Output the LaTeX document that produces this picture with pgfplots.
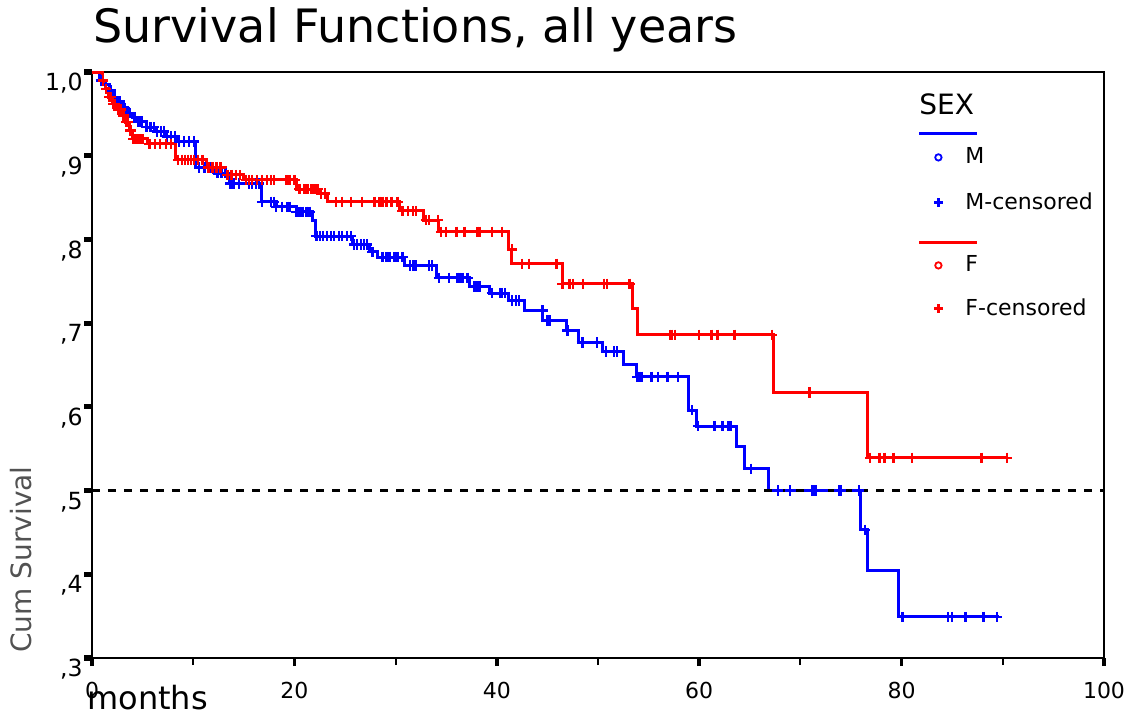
\documentclass[border=0pt]{standalone}
\usepackage{fontspec}
\setmainfont{DejaVu Sans}
\usepackage{pgfplots}
\pgfplotsset{compat=1.18}
\usetikzlibrary{calc}
\definecolor{kmblue}{RGB}{0,0,255}
\definecolor{kmred}{RGB}{255,0,0}
\pgfplotsset{
  kmline/.style={legend image code/.code={\draw[##1,overlay] (-1bp,0bp) -- (28bp,0bp); \path[draw=none,fill=none] (0bp,-#1) rectangle (22bp,#1);}},
  kmmark/.style={legend image code/.code={\draw[##1] plot coordinates {(8.5bp,0bp)}; \path[draw=none,fill=none] (0bp,-#1) rectangle (22bp,#1);}},
  kmtext/.style={legend image code/.code={\path[draw=none,fill=none] (0bp,-#1) rectangle (22bp,#1);}},
}
\begin{document}
\begin{tikzpicture}
\begin{axis}[
  name=main,
  scale only axis, width=506bp, height=293bp,
  xmin=0, xmax=100, ymin=0.3, ymax=1.0,
  xtick={0,20,40,60,80,100}, xticklabels={0,20,40,60,80,100},
  minor xtick={10,30,50,70,90},
  ytick={0.3,0.4,0.5,0.6,0.7,0.8,0.9,1.0},
  yticklabels={{,3},{,4},{,5},{,6},{,7},{,8},{,9},{1,0}},
  xtick pos=left, ytick pos=left,
  tick align=outside,
  major tick length=4bp, minor tick length=3.5bp,
  major x tick style={line width=1.8bp, black},
  minor x tick style={line width=1bp, black},
  y tick style={line width=2.6bp, black},
  axis line style={line width=1.2bp},
  tick label style={font=\fontsize{11bp}{13bp}\selectfont, inner sep=0pt},
  xticklabel style={yshift=-8bp},
  yticklabel style={font=\fontsize{11.8bp}{14bp}\selectfont, anchor=north east, yshift=-0.5bp, xshift=-0.5bp},
  clip=false,
  title={Survival Functions, all years},
  title style={at={(axis description cs:0.001,1.0495)}, anchor=base west, yshift=-6pt, inner sep=0pt, font=\fontsize{23bp}{26bp}\selectfont},
  xlabel={months},
  xlabel style={at={(axis description cs:-0.005,0)}, anchor=base west, yshift=-25.5bp, inner sep=0pt, font=\fontsize{16bp}{19bp}\selectfont},
  ylabel={Cum Survival},
  ylabel style={at={(axis description cs:-0.0593,0.0085)}, anchor=base west, inner sep=0pt, font=\fontsize{14bp}{16bp}\selectfont, text=black!68},
  legend cell align=left,
  legend style={draw=none, fill=none, inner sep=0pt, row sep=0pt, column sep=0pt,
    at={(axis description cs:0,1)}, anchor=north west, xshift=414.5bp, yshift=-8.5bp,
    nodes={inner sep=0pt, font=\fontsize{11bp}{13bp}\selectfont}},
]
% legend images
\addlegendimage{kmtext=8bp}
\addlegendentry{\fontsize{14bp}{16bp}\selectfont\hspace*{-23bp}SEX}
\addlegendimage{kmblue, line width=1.3bp, kmline=6bp}
\addlegendentry{}
\addlegendimage{only marks, mark=o, kmblue, mark size=1.6bp, line width=0.9bp, kmmark=6bp}
\addlegendentry{M}
\addlegendimage{only marks, mark=+, kmblue, mark size=2.2bp, line width=1.1bp, kmmark=16.5bp}
\addlegendentry{M-censored}
\addlegendimage{kmred, line width=1.3bp, kmline=3.5bp}
\addlegendentry{}
\addlegendimage{only marks, mark=o, kmred, mark size=1.6bp, line width=0.9bp, kmmark=8bp}
\addlegendentry{F}
\addlegendimage{only marks, mark=+, kmred, mark size=2.2bp, line width=1.1bp, kmmark=13.5bp}
\addlegendentry{F-censored}

% Male survival (step)
\addplot[const plot, kmblue, line width=1.5bp, forget plot] coordinates {
(0,1.0)(0.7,0.99)(1.2,0.985)(1.7,0.978)(2.1,0.97)(2.5,0.965)(3.0,0.957)(3.5,0.951)
(4.0,0.946)(4.5,0.941)(5.4,0.934)(6.4,0.929)(7.4,0.923)(8.4,0.917)(10.2,0.886)
(12.1,0.879)(13.6,0.867)(16.7,0.845)(18.2,0.839)(20.2,0.833)(21.8,0.823)(22.1,0.804)
(25.7,0.794)(27.4,0.785)(28.2,0.779)(30.9,0.769)(34.0,0.754)(37.3,0.744)(39.3,0.736)
(41.2,0.727)(42.7,0.715)(44.5,0.703)(46.9,0.691)(48.1,0.677)(50.4,0.666)(52.5,0.651)
(53.8,0.636)(58.9,0.596)(59.7,0.577)(63.7,0.553)(64.5,0.526)(66.8,0.500)(75.9,0.453)
(76.6,0.404)(79.7,0.349)(89.6,0.349)
};
% Male censored
\addplot[only marks, mark=+, kmblue, mark size=2.6bp, line width=1.2bp, forget plot] coordinates {
(0.9,0.99)(1.4,0.985)(1.9,0.978)(2.3,0.97)(2.7,0.965)(3.2,0.957)(3.7,0.951)(4.2,0.946)
(4.6,0.941)(4.9,0.941)(5.4,0.934)(5.8,0.934)(6.1,0.934)(6.4,0.929)(6.8,0.929)(7.1,0.929)
(7.4,0.923)(7.8,0.923)(8.2,0.923)(8.6,0.917)(9.1,0.917)(9.6,0.917)(10.1,0.917)
(10.6,0.886)(11.1,0.886)(11.6,0.886)(12.4,0.879)(12.8,0.879)(13.2,0.879)
(13.7,0.867)(14.0,0.867)(14.5,0.867)(15.5,0.867)(15.8,0.867)(16.2,0.867)(16.5,0.867)
(16.8,0.845)(17.7,0.845)(18.0,0.845)(18.2,0.839)(18.8,0.839)(19.3,0.839)(19.5,0.839)
(20.2,0.833)(20.5,0.833)(20.8,0.833)(21.2,0.833)(21.5,0.833)
(22.2,0.804)(22.5,0.804)(22.8,0.804)(23.2,0.804)(23.6,0.804)(23.9,0.804)(24.4,0.804)(24.7,0.804)(25.2,0.804)(25.6,0.804)
(25.9,0.794)(26.2,0.794)(26.6,0.794)(26.9,0.794)(27.2,0.794)(27.7,0.785)
(28.7,0.779)(29.1,0.779)(29.4,0.779)(29.9,0.779)(30.2,0.779)(30.7,0.779)
(31.4,0.769)(31.7,0.769)(31.9,0.769)(32.0,0.769)(33.3,0.769)(33.6,0.769)
(34.3,0.754)(35.3,0.754)(36.1,0.754)(36.3,0.754)(36.6,0.754)(37.1,0.754)
(37.8,0.744)(38.0,0.744)(38.3,0.744)
(39.5,0.736)(40.3,0.736)(40.5,0.736)(40.8,0.736)
(41.5,0.727)(41.9,0.727)(42.2,0.727)(44.5,0.715)(45.0,0.703)(45.2,0.703)(47.0,0.691)
(48.4,0.677)(48.5,0.677)(49.9,0.677)(50.8,0.666)(51.6,0.666)(51.9,0.666)
(53.9,0.636)(54.1,0.636)(54.3,0.636)(55.3,0.636)(55.9,0.636)(56.8,0.636)(56.9,0.636)(57.9,0.636)
(59.3,0.596)(59.9,0.577)(61.5,0.577)(62.3,0.577)(62.9,0.577)(63.1,0.577)(65.1,0.526)
(67.8,0.5)(69.0,0.5)(71.2,0.5)(71.5,0.5)(73.8,0.5)(74.0,0.5)(75.8,0.5)(76.4,0.453)
(80.1,0.349)(84.6,0.349)(85.0,0.349)(86.3,0.349)(88.1,0.349)(89.4,0.349)
};
% Female survival (step)
\addplot[const plot, kmred, line width=1.5bp, forget plot] coordinates {
(0,1.0)(1.0,0.99)(1.3,0.98)(1.6,0.97)(2.0,0.962)(2.5,0.955)(3.0,0.948)(3.3,0.94)
(3.7,0.93)(4.0,0.92)(5.5,0.914)(8.3,0.895)(11.3,0.886)(13.2,0.877)(15.0,0.871)
(20.2,0.86)(22.5,0.855)(23.3,0.845)(30.4,0.834)(32.8,0.823)(34.2,0.809)(41.2,0.788)
(41.5,0.771)(46.5,0.747)(53.4,0.717)(53.9,0.686)(67.3,0.617)(76.6,0.539)(90.5,0.539)
};
% Female censored
\addplot[only marks, mark=+, kmred, mark size=2.6bp, line width=1.2bp, forget plot] coordinates {
(1.1,0.99)(1.4,0.98)(1.7,0.97)(1.9,0.97)(2.1,0.962)(2.3,0.962)(2.6,0.955)(2.8,0.955)
(3.1,0.948)(3.4,0.94)(3.5,0.94)(3.8,0.93)(4.1,0.92)(4.4,0.92)(4.7,0.92)(5.0,0.92)
(5.7,0.914)(6.2,0.914)(6.7,0.914)(7.3,0.914)(7.8,0.914)
(8.5,0.895)(8.9,0.895)(9.2,0.895)(9.5,0.895)(9.8,0.895)(10.1,0.895)(10.5,0.895)(10.9,0.895)
(11.5,0.886)(11.9,0.886)(12.3,0.886)(12.7,0.886)(13.4,0.877)(13.8,0.877)(14.2,0.877)(14.6,0.877)
(15.2,0.871)(15.5,0.871)(15.8,0.871)(16.3,0.871)(16.8,0.871)(17.3,0.871)(17.7,0.871)(18.0,0.871)(19.2,0.871)(19.5,0.871)(20.0,0.871)
(20.5,0.86)(21.0,0.86)(21.3,0.86)(21.7,0.86)(22.0,0.86)(22.3,0.86)(22.6,0.855)(23.0,0.855)
(24.1,0.845)(24.7,0.845)(25.6,0.845)(26.7,0.845)(27.9,0.845)(28.4,0.845)(28.7,0.845)(29.1,0.845)(29.6,0.845)(30.2,0.845)
(30.7,0.834)(31.2,0.834)(31.7,0.834)(32.0,0.834)(33.0,0.823)(33.3,0.823)(34.2,0.823)
(34.5,0.809)(35.0,0.809)(36.0,0.809)(36.8,0.809)(38.1,0.809)(38.3,0.809)(39.5,0.809)(40.5,0.809)
(41.5,0.788)(42.5,0.771)(43.2,0.771)(45.9,0.771)
(46.5,0.747)(47.2,0.747)(47.5,0.747)(48.5,0.747)(50.6,0.747)(50.9,0.747)(53.1,0.747)
(57.1,0.686)(57.3,0.686)(57.6,0.686)(60.0,0.686)(61.2,0.686)(61.8,0.686)(63.5,0.686)(67.2,0.686)
(70.9,0.617)
(76.9,0.539)(77.8,0.539)(78.3,0.539)(79.2,0.539)(81.0,0.539)(87.9,0.539)(90.4,0.539)
};
% median reference line
\addplot[black, line width=1.2bp, dash pattern=on 4bp off 4bp, forget plot] coordinates {(0,0.5)(100,0.5)};
\end{axis}
\pgfresetboundingbox
\path ($(main.south west)+(-46bp,-28.5bp)$) rectangle ($(main.north east)+(18.5bp,36bp)$);
\end{tikzpicture}
\end{document}
